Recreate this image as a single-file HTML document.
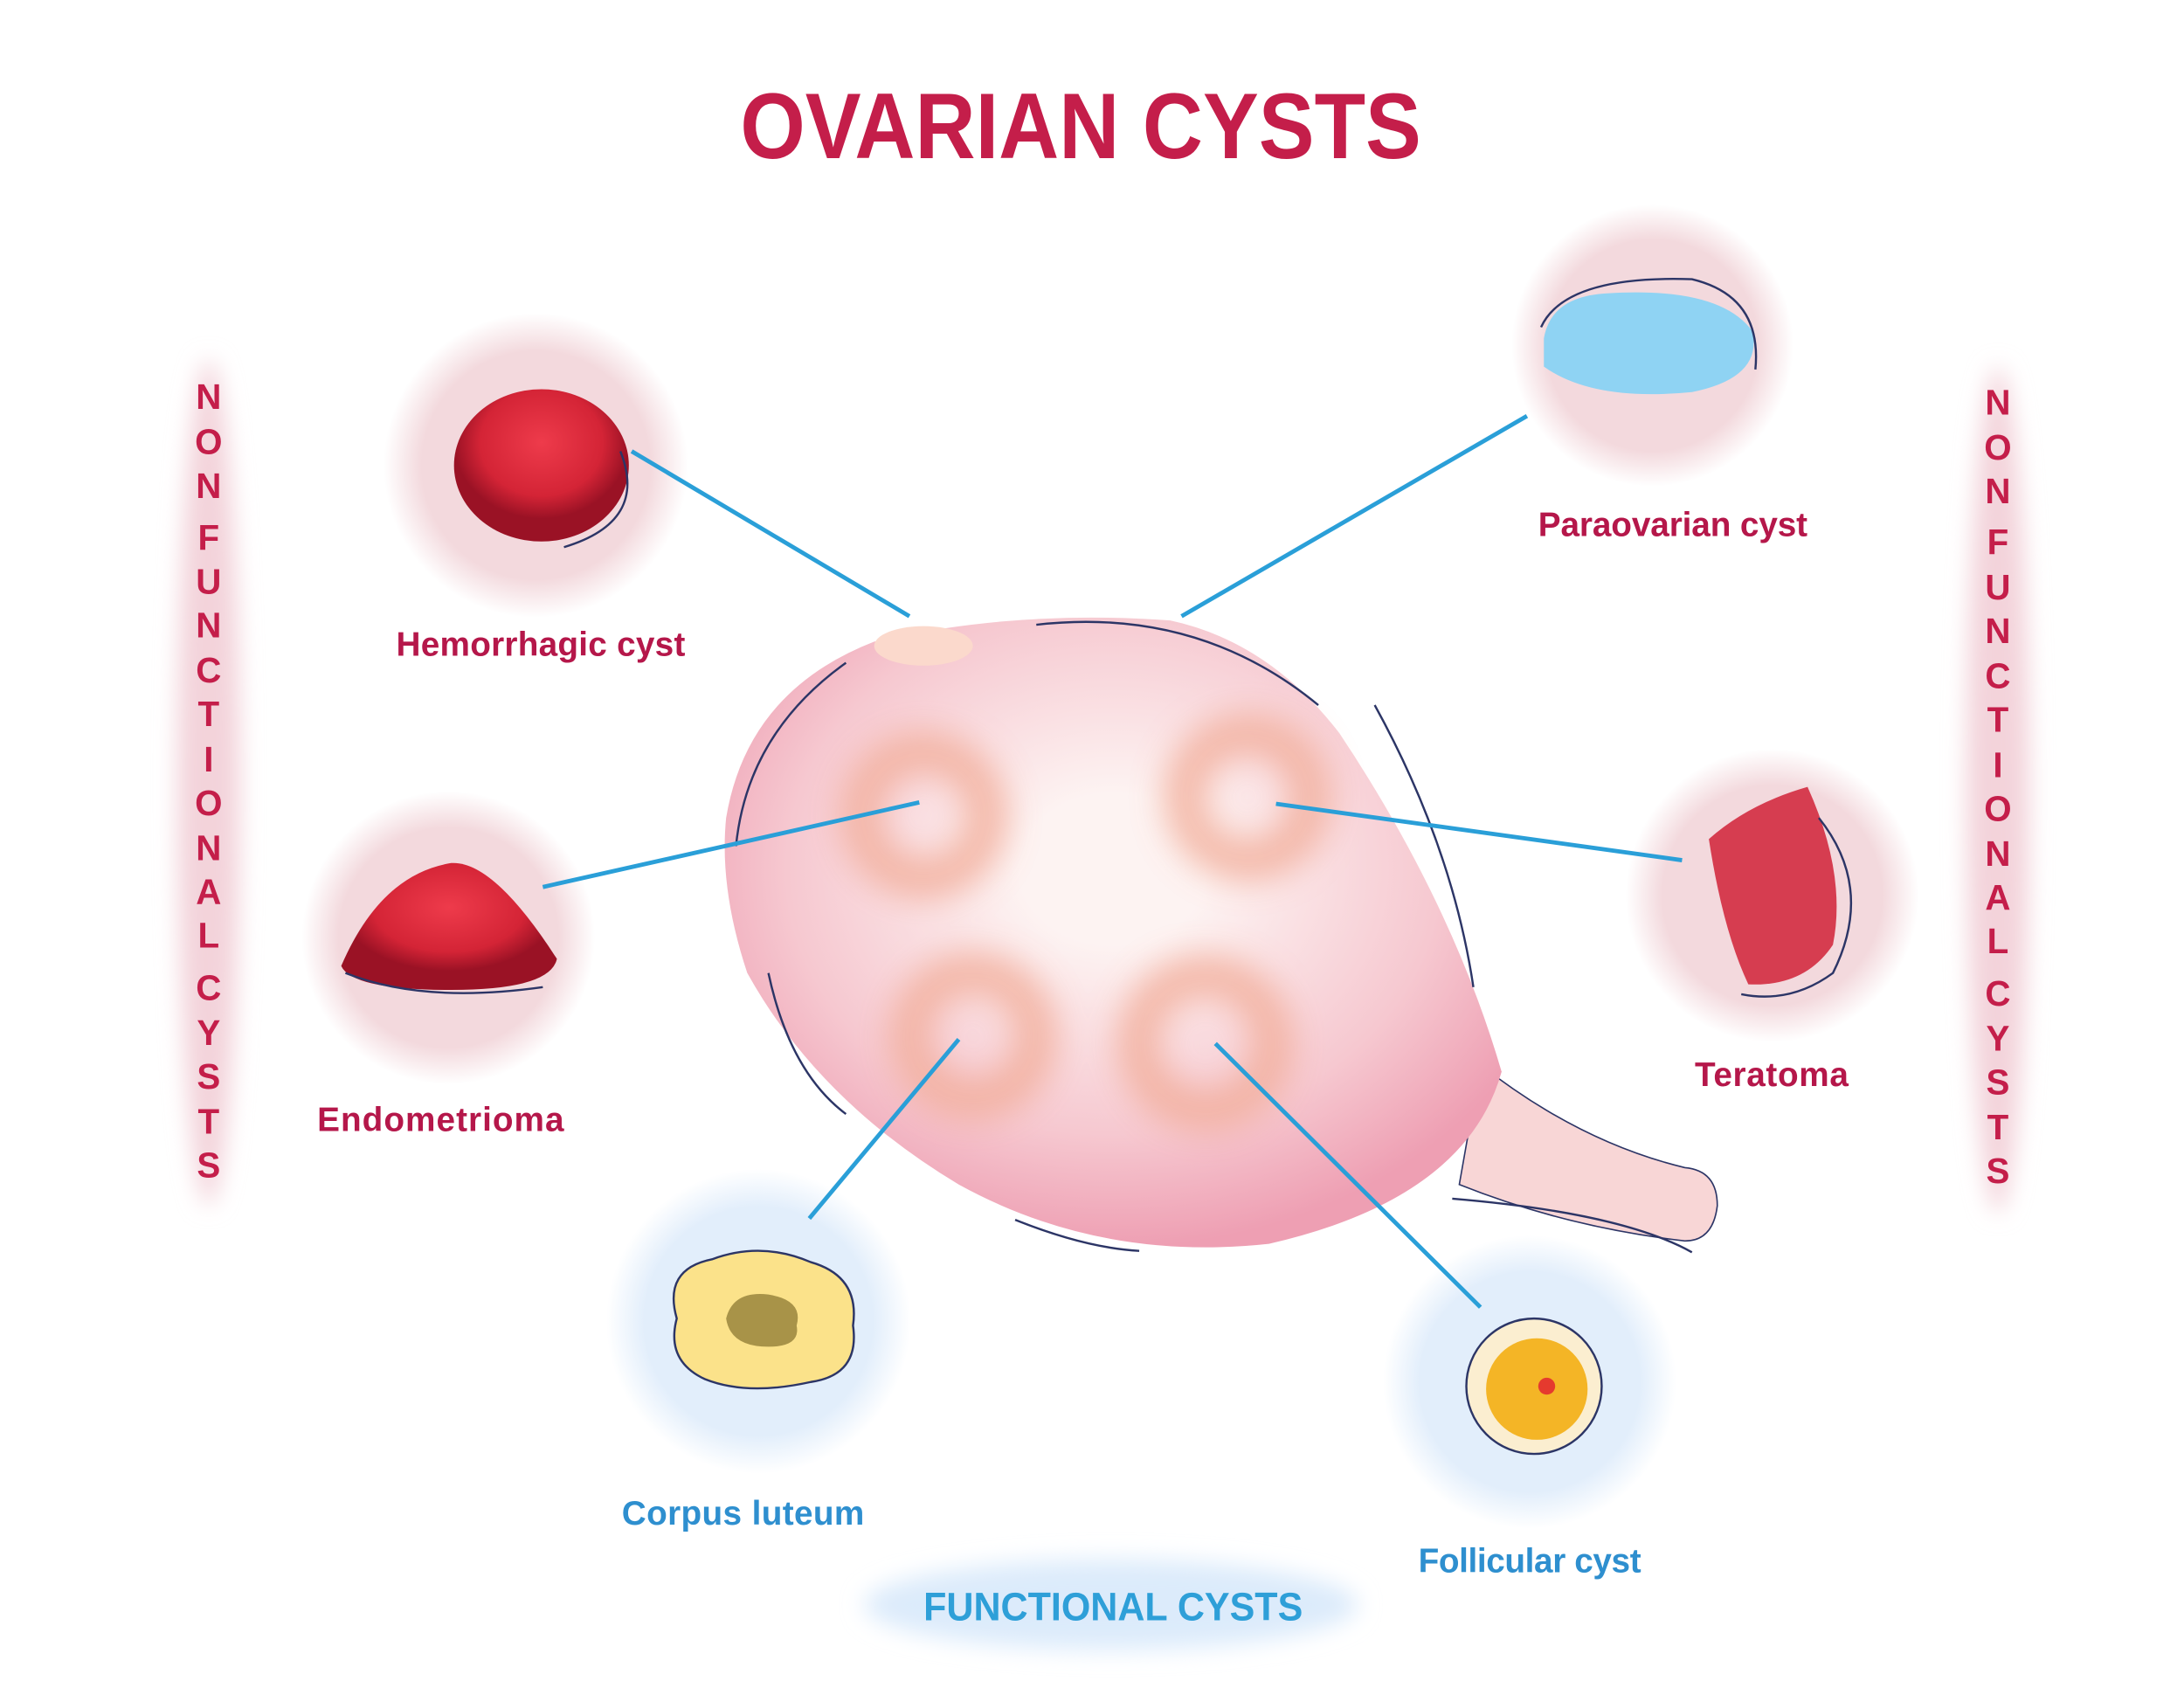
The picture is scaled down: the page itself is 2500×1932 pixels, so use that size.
<!DOCTYPE html>
<html><head><meta charset="utf-8"><style>
html,body{margin:0;padding:0;background:#fff;}
svg{display:block;}
text{font-family:"Liberation Sans",sans-serif;}
</style></head><body>
<svg width="2500" height="1932" viewBox="0 0 1549 1197" preserveAspectRatio="none" xmlns="http://www.w3.org/2000/svg">
<defs>
<filter id="b8" x="-50%" y="-50%" width="200%" height="200%"><feGaussianBlur stdDeviation="8"/></filter>
<filter id="b12" x="-50%" y="-50%" width="200%" height="200%"><feGaussianBlur stdDeviation="12"/></filter>
<radialGradient id="pc"><stop offset="0.75" stop-color="#f3d9dd"/><stop offset="1" stop-color="#f3d9dd" stop-opacity="0"/></radialGradient>
<radialGradient id="bc"><stop offset="0.75" stop-color="#e2eefb"/><stop offset="1" stop-color="#e2eefb" stop-opacity="0"/></radialGradient>
<radialGradient id="ov" cx="0.5" cy="0.4" r="0.6"><stop offset="0.2" stop-color="#fdf3f2"/><stop offset="0.7" stop-color="#f6c8d0"/><stop offset="1" stop-color="#ee9fb3"/></radialGradient>
<radialGradient id="red" cx="0.5" cy="0.35"><stop offset="0" stop-color="#ee3b4b"/><stop offset="0.7" stop-color="#d42436"/><stop offset="1" stop-color="#9a1225"/></radialGradient>
</defs>
<rect width="1549" height="1197" fill="#fff"/>
<text x="525" y="112" font-size="66" font-weight="bold" fill="#c41e4a" textLength="483" lengthAdjust="spacingAndGlyphs">OVARIAN CYSTS</text>

<ellipse cx="148" cy="555" rx="22" ry="300" fill="#f3d3da" filter="url(#b8)"/>
<ellipse cx="1417" cy="560" rx="22" ry="300" fill="#f3d3da" filter="url(#b8)"/>
<g font-size="25" font-weight="bold" fill="#c41e4a" text-anchor="middle">
<text x="148" y="290">N</text><text x="148" y="322">O</text><text x="148" y="353">N</text><text x="148" y="390">F</text><text x="148" y="421">U</text><text x="148" y="452">N</text><text x="148" y="484">C</text><text x="148" y="515">T</text><text x="148" y="547">I</text><text x="148" y="578">O</text><text x="148" y="610">N</text><text x="148" y="641">A</text><text x="148" y="672">L</text><text x="148" y="709">C</text><text x="148" y="741">Y</text><text x="148" y="772">S</text><text x="148" y="804">T</text><text x="148" y="835">S</text>
<text x="1417" y="294">N</text><text x="1417" y="326">O</text><text x="1417" y="357">N</text><text x="1417" y="393">F</text><text x="1417" y="425">U</text><text x="1417" y="456">N</text><text x="1417" y="488">C</text><text x="1417" y="519">T</text><text x="1417" y="551">I</text><text x="1417" y="582">O</text><text x="1417" y="614">N</text><text x="1417" y="645">A</text><text x="1417" y="676">L</text><text x="1417" y="713">C</text><text x="1417" y="745">Y</text><text x="1417" y="776">S</text><text x="1417" y="808">T</text><text x="1417" y="839">S</text>
</g>

<circle cx="380" cy="330" r="108" fill="url(#pc)"/>
<circle cx="318" cy="665" r="104" fill="url(#pc)"/>
<circle cx="1172" cy="245" r="100" fill="url(#pc)"/>
<circle cx="1257" cy="635" r="104" fill="url(#pc)"/>
<circle cx="538" cy="937" r="108" fill="url(#bc)"/>
<circle cx="1085" cy="980" r="104" fill="url(#bc)"/>
<ellipse cx="788" cy="1138" rx="175" ry="32" fill="#dcebfb" filter="url(#b8)"/>

<ellipse cx="384" cy="330" rx="62" ry="54" fill="url(#red)"/>
<path d="M440 320 Q460 370 400 388" fill="none" stroke="#2c3566" stroke-width="1.5"/>
<path d="M242 685 Q270 620 320 612 Q350 610 395 680 Q390 702 320 702 Q250 702 242 685Z" fill="url(#red)"/>
<path d="M245 690 Q300 712 385 700" fill="none" stroke="#2c3566" stroke-width="1.5"/>
<path d="M1095 240 Q1100 210 1140 208 Q1220 203 1243 235 Q1250 268 1200 278 Q1130 285 1095 260Z" fill="#8fd3f3"/>
<path d="M1093 232 Q1110 195 1200 198 Q1250 210 1245 262" fill="none" stroke="#2c3566" stroke-width="1.5"/>
<path d="M1212 595 Q1240 570 1282 558 Q1310 620 1300 670 Q1280 700 1240 698 Q1222 660 1212 595Z" fill="#d63d50"/>
<path d="M1290 580 Q1330 630 1300 690 Q1270 712 1235 705" fill="none" stroke="#2c3566" stroke-width="1.5"/>
<path d="M480 935 Q470 900 505 893 Q540 880 575 895 Q610 905 605 940 Q610 975 575 980 Q530 990 500 978 Q472 965 480 935Z" fill="#fbe28a" stroke="#2c3566" stroke-width="1.5"/>
<path d="M515 935 Q520 915 545 918 Q570 922 565 940 Q568 955 545 955 Q518 955 515 935Z" fill="#a89348"/>
<circle cx="1088" cy="983" r="48" fill="#fbeed0" stroke="#2c3566" stroke-width="1.5"/>
<circle cx="1090" cy="985" r="36" fill="#f4b526"/>
<circle cx="1097" cy="983" r="6" fill="#e53a2e"/>

<g stroke="#2a9fd8" stroke-width="3" fill="none">
<line x1="448" y1="320" x2="645" y2="437"/>
<line x1="838" y1="437" x2="1083" y2="295"/>
</g>

<path d="M1050 755 Q1120 810 1195 828 Q1218 830 1218 855 Q1215 880 1195 880 Q1110 870 1035 840Z" fill="#f8d6d6" stroke="#2c3566" stroke-width="1"/>
<path d="M515 580 Q530 490 620 455 Q720 432 830 440 Q900 455 950 520 Q1030 640 1065 760 Q1040 850 900 882 Q780 895 680 840 Q580 780 530 690 Q510 630 515 580Z" fill="url(#ov)"/>
<g filter="url(#b12)" fill="none" stroke="#f2ad9a" stroke-width="28" opacity="0.85">
<circle cx="655" cy="578" r="45"/><circle cx="885" cy="565" r="45"/><circle cx="690" cy="735" r="45"/><circle cx="855" cy="740" r="48"/>
</g>
<g fill="none" stroke="#2c3566" stroke-width="1.5">
<path d="M735 443 Q850 430 935 500"/>
<path d="M600 470 Q530 520 522 600"/>
<path d="M545 690 Q560 760 600 790"/>
<path d="M720 865 Q770 885 808 887"/>
<path d="M975 500 Q1030 600 1045 700"/>
<path d="M1030 850 Q1150 860 1200 888"/>
</g>
<ellipse cx="655" cy="458" rx="35" ry="14" fill="#fbd9cc"/>

<g stroke="#2a9fd8" stroke-width="3" fill="none">
<line x1="385" y1="629" x2="652" y2="569"/>
<line x1="905" y1="570" x2="1193" y2="610"/>
<line x1="680" y1="737" x2="574" y2="864"/>
<line x1="862" y1="740" x2="1050" y2="927"/>
</g>

<g font-size="24" font-weight="bold" lengthAdjust="spacingAndGlyphs">
<text x="281" y="465" fill="#b5174a" textLength="205">Hemorrhagic cyst</text>
<text x="225" y="802" fill="#b5174a" textLength="175">Endometrioma</text>
<text x="1091" y="380" fill="#b5174a" textLength="191">Paraovarian cyst</text>
<text x="1202" y="770" fill="#b5174a" textLength="109">Teratoma</text>
<text x="441" y="1081" fill="#2e8fcf" textLength="172">Corpus luteum</text>
<text x="1006" y="1115" fill="#2e8fcf" textLength="158">Follicular cyst</text>
</g>
<text x="655" y="1149" font-size="28" font-weight="bold" fill="#2e9fd8" textLength="269" lengthAdjust="spacingAndGlyphs">FUNCTIONAL CYSTS</text>
</svg>
</body></html>
